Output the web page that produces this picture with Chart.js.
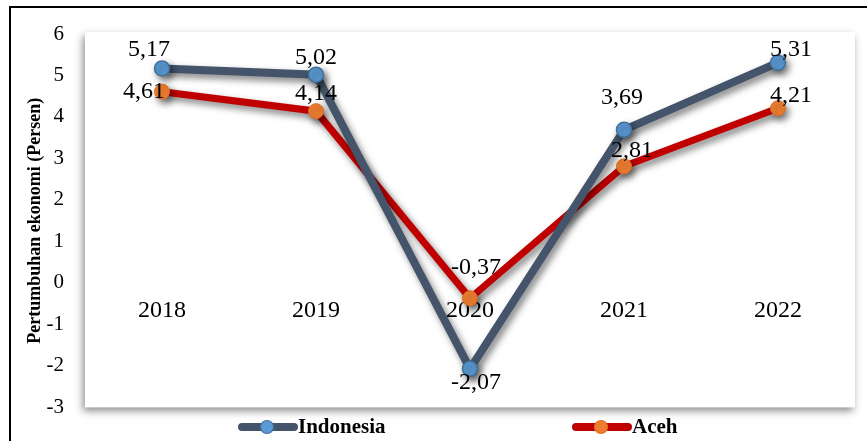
<!DOCTYPE html>
<html>
<head>
<meta charset="utf-8">
<script src="https://cdn.jsdelivr.net/npm/chart.js@4.4.1/dist/chart.umd.min.js"></script>
<style>
  html, body { margin: 0; padding: 0; background: #fff; }
</style>
</head>
<body>
<canvas id="growthChart" width="867" height="441"></canvas>
<script>
// ====== DATA ======
const years = ["2018", "2019", "2020", "2021", "2022"];
const indonesia = [5.17, 5.02, -2.07, 3.69, 5.31];
const aceh = [4.61, 4.14, -0.37, 2.81, 4.21];
const yTicks = [-3, -2, -1, 0, 1, 2, 3, 4, 5, 6];
const yTitle = "Pertumbuhan ekonomi (Persen)";

// ====== STYLE ======
const SERIF = "'Liberation Serif', 'Times New Roman', serif";
const fmt = (v) => v.toFixed(2).replace(".", ",");
// label offsets (dx, dy) from each point, per dataset
const labelOffsets = [
  [[-13, -19], [0, -17], [6, 14], [-2, -32], [13, -13]],
  [[-18, 0], [0, -17], [6, -31], [8, -16], [13, -13]]
];
const legendItems = [
  { x: 238, line: "#44546A", fill: "#5B9BD5", border: "#41719C" },
  { x: 572, line: "#C00000", fill: "#ED7D31", border: "#E07020" }
];

// ====== PLUGINS ======
const frame = {
  id: "frame",
  beforeDraw(chart) {
    const { ctx, chartArea: a } = chart;
    ctx.save();
    ctx.fillStyle = "#fff";
    ctx.fillRect(0, 0, chart.width, chart.height);
    ctx.strokeStyle = "#000";
    ctx.lineWidth = 2;
    ctx.strokeRect(10, 7, 900, 500);
    // plot area with soft shadow
    ctx.shadowColor = "rgba(0,0,0,0.45)";
    ctx.shadowBlur = 8;
    ctx.shadowOffsetX = -2;
    ctx.shadowOffsetY = 4;
    ctx.fillStyle = "#fff";
    ctx.fillRect(a.left, a.top - 2, a.right - a.left, a.bottom - a.top + 2);
    ctx.restore();
  }
};

const lineShadow = {
  id: "lineShadow",
  beforeDatasetDraw(chart) {
    const ctx = chart.ctx;
    ctx.save();
    ctx.shadowColor = "rgba(0,0,0,0.5)";
    ctx.shadowBlur = 7;
    ctx.shadowOffsetX = 3;
    ctx.shadowOffsetY = 4;
  },
  afterDatasetDraw(chart) {
    chart.ctx.restore();
  }
};

const valueLabels = {
  id: "valueLabels",
  afterDatasetsDraw(chart) {
    const ctx = chart.ctx;
    ctx.save();
    ctx.font = "24px " + SERIF;
    ctx.fillStyle = "#000";
    ctx.textAlign = "center";
    ctx.textBaseline = "middle";
    chart.data.datasets.forEach((ds, i) => {
      const meta = chart.getDatasetMeta(i);
      meta.data.forEach((pt, j) => {
        const [dx, dy] = labelOffsets[i][j];
        ctx.fillText(fmt(ds.data[j]), pt.x + dx, pt.y + dy);
      });
    });
    ctx.restore();
  }
};

const bottomLegend = {
  id: "bottomLegend",
  afterDraw(chart) {
    const ctx = chart.ctx;
    const y = 427;
    ctx.save();
    chart.data.datasets.forEach((ds, i) => {
      const it = legendItems[i];
      ctx.strokeStyle = it.line;
      ctx.lineWidth = 8;
      ctx.lineCap = "round";
      ctx.beginPath();
      ctx.moveTo(it.x + 4, y);
      ctx.lineTo(it.x + 56, y);
      ctx.stroke();
      ctx.beginPath();
      ctx.arc(it.x + 29, y, 6.5, 0, Math.PI * 2);
      ctx.fillStyle = it.fill;
      ctx.fill();
      ctx.lineWidth = 1.2;
      ctx.strokeStyle = it.border;
      ctx.stroke();
      ctx.font = "bold 21px " + SERIF;
      ctx.fillStyle = "#000";
      ctx.textAlign = "left";
      ctx.textBaseline = "middle";
      ctx.fillText(ds.label, it.x + 60, y + 1);
    });
    ctx.restore();
  }
};

// ====== CHART ======
new Chart(document.getElementById("growthChart"), {
  type: "line",
  data: {
    labels: years,
    datasets: [
      {
        label: "Indonesia",
        data: indonesia,
        borderColor: "#44546A",
        borderWidth: 8,
        pointRadius: 7.5,
        pointBackgroundColor: "#5B9BD5",
        pointBorderColor: "#41719C",
        pointBorderWidth: 1.5,
        tension: 0
      },
      {
        label: "Aceh",
        data: aceh,
        borderColor: "#C00000",
        borderWidth: 7,
        pointRadius: 7.5,
        pointBackgroundColor: "#ED7D31",
        pointBorderColor: "#E07020",
        pointBorderWidth: 1,
        tension: 0
      }
    ]
  },
  options: {
    responsive: false,
    animation: false,
    layout: { padding: { left: 22, top: 34, right: 12, bottom: 29 } },
    plugins: { legend: { display: false }, tooltip: { enabled: false } },
    scales: {
      x: {
        type: "category",
        offset: true,
        position: { y: 0 },
        grid: { display: false, drawTicks: false },
        border: { display: false },
        ticks: { color: "#000", font: { family: SERIF, size: 24 }, padding: 13 },
        afterFit: (s) => { s.height = 0; }
      },
      y: {
        min: -3,
        max: 6,
        grid: { display: false, drawTicks: false },
        border: { display: false },
        ticks: { color: "#000", font: { family: SERIF, size: 21 }, padding: 21 },
        afterBuildTicks: (s) => { s.ticks = yTicks.map(v => ({ value: v })); },
        afterFit: (s) => { s.width = 63; },
        title: {
          display: true,
          text: yTitle,
          color: "#000",
          font: { family: SERIF, size: 18, weight: "bold" },
          padding: { top: 3, bottom: 0 }
        }
      }
    }
  },
  plugins: [frame, lineShadow, valueLabels, bottomLegend]
});
</script>
</body>
</html>
